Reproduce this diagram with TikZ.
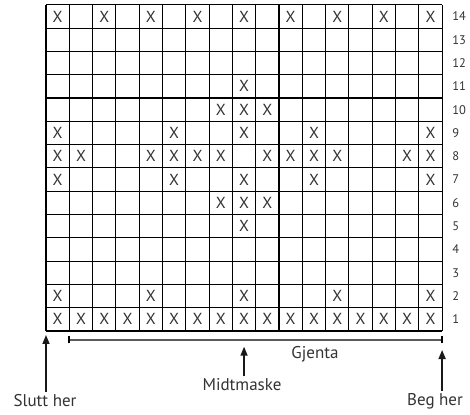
\documentclass[tikz,border=0pt]{standalone}
\usepackage{fontspec}
\setmainfont{PT Sans}
\usetikzlibrary{arrows.meta}
\definecolor{txtgray}{gray}{0.2}

\begin{document}
\begin{tikzpicture}[x=1pt, y=1pt]
\def\u{23.3pt}
\tikzset{
  cellx/.style={font=\fontsize{16}{16}\selectfont, text=txtgray, inner sep=0pt},
  rownum/.style={anchor=west, font=\fontsize{12.5}{12.5}\selectfont, text=txtgray, inner sep=0pt},
  notetext/.style={anchor=base, font=\fontsize{17}{17}\selectfont, text=txtgray, inner sep=1.5pt},
  arr/.style={-{Triangle[length=9pt, width=7pt]}, line width=1.5pt, black!90}
}
\useasboundingbox (-46,-83) rectangle (424,331);

\draw [line width=1.1pt, step=\u] (0, 0) grid (17*\u, 14*\u);

\foreach \r in {1,...,14}
  \node [rownum] (n\r) at (17*\u+10pt, \r*\u-0.5*\u) {\r};

\foreach \r/\cols in {14/{1,3,...,17}, 11/{9}, 10/{8,9,10}, 9/{1,6,9,12,17},
    8/{1,2,5,6,7,8,10,11,12,13,16,17}, 7/{1,6,9,12,17}, 6/{8,9,10}, 5/{9},
    2/{1,5,9,13,17}, 1/{1,...,17}}
  \foreach \c in \cols
    \node [cellx] (x\r-\c) at (\c*\u-0.5*\u, \r*\u-0.5*\u) {X};

\coordinate (repL) at (1*\u, -9);
\coordinate (repR) at (17*\u, -9);
\draw [line width=1.3pt, black!65] (repL) -- (repR);
\draw [line width=2pt] ([yshift=-3.5pt]repL) -- ([yshift=3.5pt]repL);
\draw [line width=2pt] ([yshift=-3.5pt]repR) -- ([yshift=3.5pt]repR);
\node [notetext] (gjenta) at (269, -27.3) {Gjenta};

\coordinate (sluttTip) at (0, -4);
\coordinate (midtTip) at (8.5*\u, -15.7);
\coordinate (begTip) at (17*\u, -19);

\node [notetext] (slutt) at (-1, -75) {Slutt her};
\node [notetext] (midt) at (196, -59) {Midtmaske};
\node [notetext] (beg) at (389, -74) {Beg her};

\draw [arr] (slutt.north -| sluttTip) -- (sluttTip);
\draw [arr] (midt.north -| midtTip) -- (midtTip);
\draw [arr] (beg.north -| begTip) -- (begTip);
\end{tikzpicture}
\end{document}
